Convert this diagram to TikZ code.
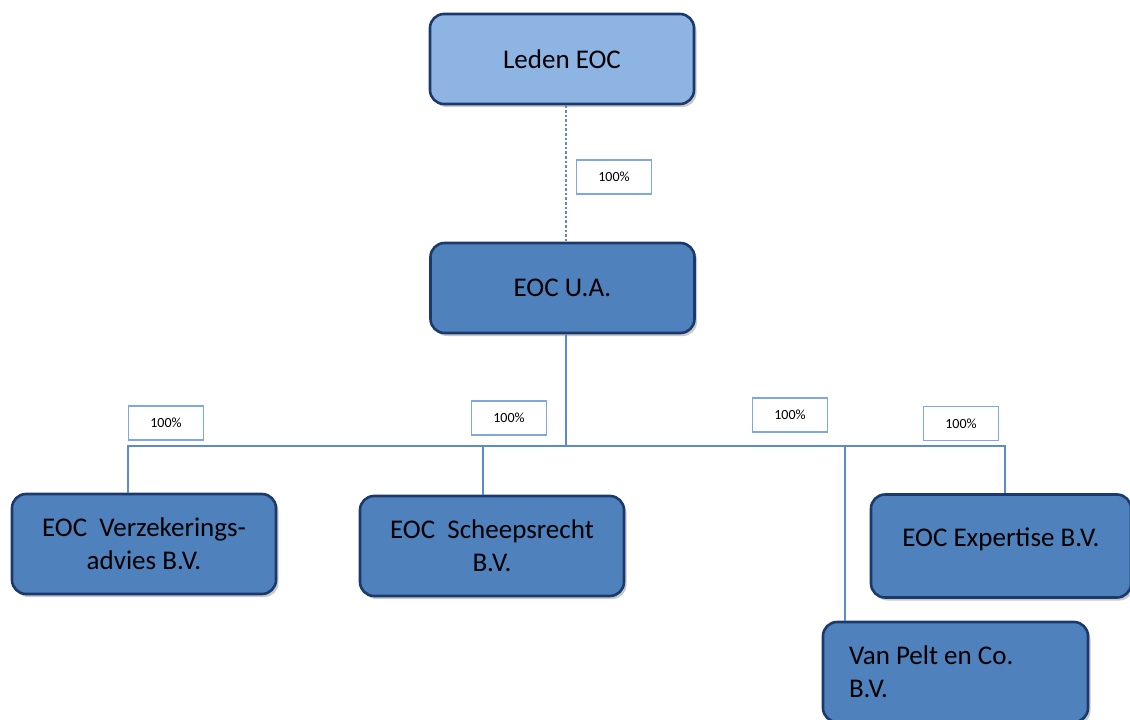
\documentclass[tikz,border=0pt]{standalone}
\usepackage{fontspec}
\setmainfont{Carlito}
\usetikzlibrary{shadows}
\definecolor{lightfill}{HTML}{8EB4E3}
\definecolor{midfill}{HTML}{4F81BD}
\definecolor{navy}{HTML}{1B3A6B}
\definecolor{linkblue}{HTML}{5B8BC9}
\definecolor{tagblue}{HTML}{7FA8DE}
\tikzset{
  orgbox/.style={draw=navy, line width=2.6pt, rounded corners=14pt, fill=midfill,
    minimum width=#1, minimum height=100pt, inner sep=0pt,
    font=\fontsize{27}{33}\selectfont, text=black,
    drop shadow={opacity=0.35, shadow xshift=2.5pt, shadow yshift=-3pt, fill=black!60}},
  orgbox/.default=264pt,
  tag/.style={draw=tagblue, line width=1.2pt, fill=white, minimum width=75pt, minimum height=34pt,
    inner sep=0pt, font=\fontsize{14}{16}\selectfont},
  link/.style={draw=linkblue, line width=2.2pt},
}
\begin{document}
\begin{tikzpicture}[x=1pt,y=-1pt]
\useasboundingbox (0,0) rectangle (1130,720);
\clip (0,0) rectangle (1130,720);
% top boxes
\node[orgbox, fill=lightfill, minimum height=90pt] (leden) at (562,59) {Leden EOC};
\node[orgbox, minimum height=90pt] (ua) at (562.5,288) {EOC U.A.};
% subsidiaries
\node[orgbox, align=center] (verz) at (144,544) {EOC\ \ Verzekerings-\\advies B.V.};
\node[orgbox, align=center] (scheeps) at (492,546) {EOC\ \ Scheepsrecht\\B.V.};
\node[orgbox, minimum width=260pt, minimum height=103pt, text height=20pt, text depth=20pt] (exp) at (1001,546) {EOC Expertise B.V.};
\node[orgbox, minimum width=265pt, align=flush left, text width=213pt] (vanpelt) at (955.5,672) {Van Pelt en Co.\\B.V.};
% connectors
\coordinate (hub) at (566,446);
\coordinate (jverz) at (128,446);
\coordinate (jscheeps) at (483,446);
\coordinate (jvp) at (845,446);
\coordinate (jexp) at (1005,446);
\draw[link, line width=2.8pt, dash pattern=on 2.6pt off 2pt] (leden.south -| hub) -- (ua.north -| hub);
\draw[link] (ua.south -| hub) -- (hub);
\draw[link] (jverz |- verz.north) -- (jverz) -- (jexp) -- (jexp |- exp.north);
\draw[link] (jscheeps) -- (jscheeps |- scheeps.north);
\draw[link] (jvp) -- (jvp |- vanpelt.north);
% percentage tags
\node[tag] (t0) at (614,177) {100\%};
\node[tag] (t1) at (166,423) {100\%};
\node[tag] (t2) at (509,418) {100\%};
\node[tag] (t3) at (790,415) {100\%};
\node[tag] (t4) at (961,423.5) {100\%};
\end{tikzpicture}
\end{document}
